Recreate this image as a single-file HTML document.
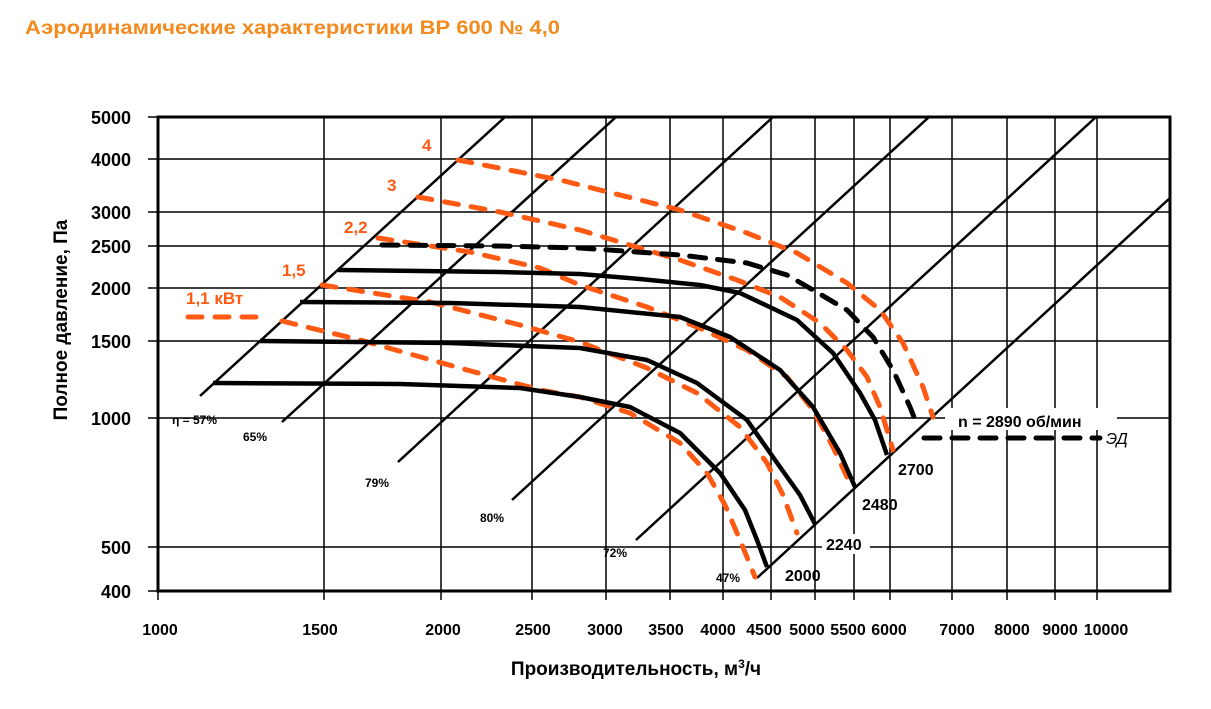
<!DOCTYPE html>
<html><head><meta charset="utf-8"><style>
html,body{margin:0;padding:0;background:#fff;}
svg{display:block;font-family:"Liberation Sans",Arial,sans-serif;}
</style></head><body>
<svg width="1211" height="709" viewBox="0 0 1211 709" xmlns="http://www.w3.org/2000/svg">
<text x="25" y="34" font-size="19" font-weight="bold" fill="#f28a1e" textLength="535" lengthAdjust="spacingAndGlyphs">Аэродинамические характеристики ВР 600 № 4,0</text>
<g stroke="#000" stroke-width="1.5">
<line x1="148" y1="159" x2="1170" y2="159"/>
<line x1="148" y1="212" x2="1170" y2="212"/>
<line x1="148" y1="246" x2="1170" y2="246"/>
<line x1="148" y1="288" x2="1170" y2="288"/>
<line x1="148" y1="341" x2="1170" y2="341"/>
<line x1="148" y1="418" x2="1170" y2="418"/>
<line x1="148" y1="547" x2="1170" y2="547"/>
<line x1="324" y1="117" x2="324" y2="600"/>
<line x1="441" y1="117" x2="441" y2="600"/>
<line x1="532" y1="117" x2="532" y2="600"/>
<line x1="606" y1="117" x2="606" y2="600"/>
<line x1="670" y1="117" x2="670" y2="600"/>
<line x1="723" y1="117" x2="723" y2="600"/>
<line x1="771" y1="117" x2="771" y2="600"/>
<line x1="815" y1="117" x2="815" y2="600"/>
<line x1="854" y1="117" x2="854" y2="600"/>
<line x1="890" y1="117" x2="890" y2="600"/>
<line x1="952" y1="117" x2="952" y2="600"/>
<line x1="1007" y1="117" x2="1007" y2="600"/>
<line x1="1055" y1="117" x2="1055" y2="600"/>
<line x1="1097" y1="117" x2="1097" y2="600"/>
<line x1="148" y1="117" x2="158" y2="117"/>
<line x1="148" y1="591" x2="158" y2="591"/>
<line x1="158" y1="591" x2="158" y2="600"/>
</g>
<rect x="158" y="117" width="1012" height="474" fill="none" stroke="#000" stroke-width="3"/>
<g stroke="#000" stroke-width="2.5">
<line x1="200" y1="396" x2="505" y2="117"/>
<line x1="282" y1="422" x2="616" y2="117"/>
<line x1="398" y1="462" x2="773" y2="117"/>
<line x1="512" y1="500" x2="929" y2="117"/>
<line x1="636" y1="540" x2="1096" y2="117"/>
<line x1="757" y1="578" x2="1170" y2="198"/>
</g>
<g fill="none" stroke-linejoin="round" stroke-linecap="round">
<g stroke="#ff5a14" stroke-width="5" stroke-dasharray="14 13">
<polyline points="188,317 265,317"/>
<polyline points="282,321 360,340 460,368 540,390 580,397 630,413 680,443 707,473 725,505 740,540 755,577"/>
<polyline points="322,285 430,302 520,325 580,342 647,368 697,393 740,427 767,463 783,495 797,533"/>
<polyline points="378,238 470,252 540,268 580,285 647,307 697,327 747,350 787,377 813,410 833,447 847,477"/>
<polyline points="418,197 500,212 580,230 623,243 680,260 737,280 780,297 820,323 847,350 867,377 880,407 893,450"/>
<polyline points="458,160 560,180 640,200 680,210 747,233 797,253 847,283 880,310 903,343 923,387 933,417"/>
</g>
<g stroke="#000" stroke-width="4.5" stroke-linecap="butt">
<polyline points="338,270 500,272 580,274 640,279 700,285 740,293 797,320 833,353 860,393 875,420 887,455"/>
<polyline points="300,302 450,303 580,307 680,317 730,337 780,370 813,407 840,453 855,487"/>
<polyline points="260,341 450,343 580,348 647,360 697,383 747,420 780,467 800,495 815,524"/>
<polyline points="213,383 400,384 520,388 580,397 630,407 680,433 720,473 745,510 757,540 767,567"/>
</g>
<g stroke="#000" stroke-width="5" stroke-dasharray="16 12" stroke-linecap="round">
<polyline points="382,245 500,246 580,248 680,255 747,263 787,275 813,290 847,310 873,337 893,370 910,407 918,427"/>
<polyline points="924,438 1100,438"/>
</g>
</g>
<g fill="#ff5a14" font-size="17" font-weight="bold">
<text x="422" y="151">4</text>
<text x="387" y="191">3</text>
<text x="344" y="233">2,2</text>
<text x="282" y="276">1,5</text>
<text x="186" y="304">1,1 кВт</text>
</g>
<g font-size="12" font-weight="bold" fill="#000">
<text x="172" y="424">η = 57%</text>
<text x="243" y="441">65%</text>
<text x="365" y="487">79%</text>
<text x="480" y="522">80%</text>
<text x="603" y="557">72%</text>
<text x="716" y="582">47%</text>
</g>
<g font-size="16" font-weight="bold" fill="#000">
<rect x="945" y="408" width="172" height="22" fill="#fff"/>
<text x="958" y="427">n = 2890 об/мин</text>
<text x="1106" y="444" font-style="italic" font-weight="normal">ЭД</text>
<text x="785" y="581">2000</text>
<rect x="822" y="534" width="48" height="20" fill="#fff"/>
<text x="826" y="550">2240</text>
<text x="862" y="510">2480</text>
<text x="898" y="475">2700</text>
</g>
<g font-size="18" font-weight="bold" fill="#000" text-anchor="end">
<text x="131" y="124">5000</text>
<text x="131" y="166">4000</text>
<text x="131" y="219">3000</text>
<text x="131" y="253">2500</text>
<text x="131" y="295">2000</text>
<text x="131" y="348">1500</text>
<text x="131" y="425">1000</text>
<text x="131" y="554">500</text>
<text x="131" y="598">400</text>
</g>
<g font-size="16" font-weight="bold" fill="#000" text-anchor="middle">
<text x="160" y="635">1000</text>
<text x="320" y="635">1500</text>
<text x="443" y="635">2000</text>
<text x="533" y="635">2500</text>
<text x="605" y="635">3000</text>
<text x="666" y="635">3500</text>
<text x="718" y="635">4000</text>
<text x="764" y="635">4500</text>
<text x="807" y="635">5000</text>
<text x="848" y="635">5500</text>
<text x="889" y="635">6000</text>
<text x="957" y="635">7000</text>
<text x="1012" y="635">8000</text>
<text x="1060" y="635">9000</text>
<text x="1106" y="635">10000</text>
</g>
<text x="636" y="675" font-size="19" font-weight="bold" text-anchor="middle">Производительность, м<tspan font-size="12" dy="-7">3</tspan><tspan dy="7">/ч</tspan></text>
<text transform="translate(67,320) rotate(-90)" font-size="19" font-weight="bold" text-anchor="middle">Полное давление, Па</text>
</svg>
</body></html>
